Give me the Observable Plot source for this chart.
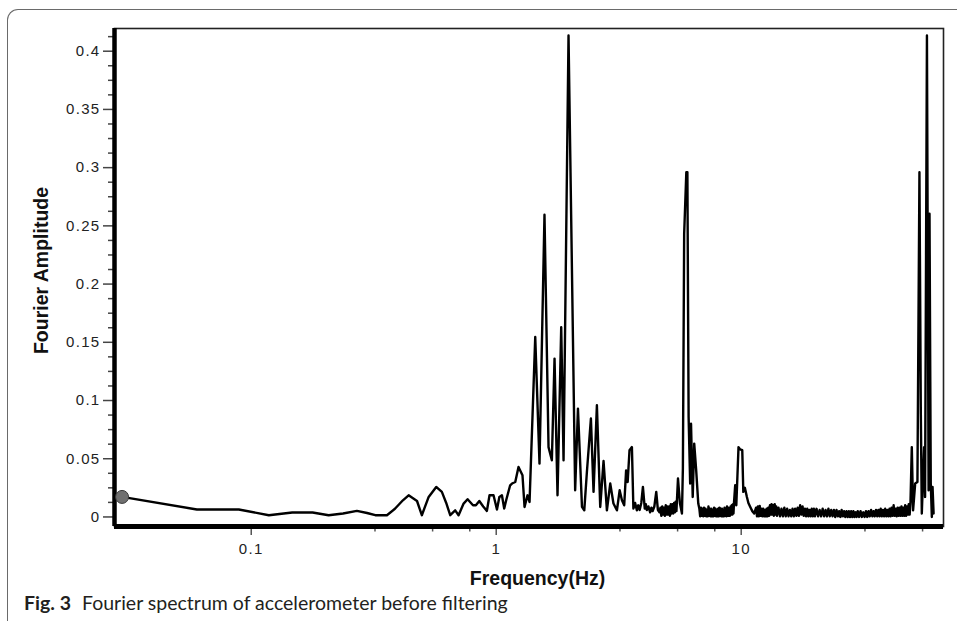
<!DOCTYPE html>
<html>
<head>
<meta charset="utf-8">
<script src="https://cdn.jsdelivr.net/npm/d3@7"></script>
<script src="https://cdn.jsdelivr.net/npm/@observablehq/plot@0.6"></script>
<style>
  html, body { margin: 0; padding: 0; background: #fff; }
  #wrap { position: relative; width: 957px; height: 626px; overflow: hidden; }
  #box { position: absolute; left: 7px; top: 9px; width: 980px; height: 612px;
         border-top: 1.5px solid #6a6a6a; border-left: 1.5px solid #6a6a6a;
         border-top-left-radius: 11px; box-sizing: border-box; }
  #chart { position: absolute; left: 0; top: 0; }
  #cap { position: absolute; left: 24px; top: 592px; font-family: Lato, "Open Sans", sans-serif;
         font-size: 19.5px; line-height: 22px; color: #231f20; white-space: nowrap; }
  #cap b { font-weight: 700; margin-right: 11px; }
  g[aria-label="y-axis tick label"] text, g[aria-label="x-axis tick label"] text {
    letter-spacing: 1.3px; font-size: 15px; font-family: "Liberation Sans", Arial, sans-serif; }
</style>
</head>
<body>
<div id="wrap">
  <div id="box"></div>
  <div id="chart"></div>
  <div id="cap"><b>Fig. 3</b>Fourier spectrum of accelerometer before filtering</div>
</div>
<script>
// ---- axis settings (tick values and labels) ----
const xDomain = [0.02766, 66.95];
const yDomain = [-0.0082, 0.4195];
const xMajor = [0.1, 1, 10];
const xLabels = ["0.1", "1", "10"];
const xMinor = [0.32, 0.55, 0.78, 3.2, 5.5, 7.8, 32, 55];
const yMajor = [0, 0.05, 0.1, 0.15, 0.2, 0.25, 0.3, 0.35, 0.4];
const yLabels = ["0", "0.05", "0.1", "0.15", "0.2", "0.25", "0.3", "0.35", "0.4"];
const yMinor = [0.0125, 0.025, 0.0375, 0.0625, 0.075, 0.0875, 0.1125, 0.125, 0.1375,
  0.1625, 0.175, 0.1875, 0.2125, 0.225, 0.2375, 0.2625, 0.275, 0.2875,
  0.3125, 0.325, 0.3375, 0.3625, 0.375, 0.3875, 0.4125];

// ---- spectrum (frequency in Hz, Fourier amplitude) ----
const lowFreq = [0.0297, 0.060, 0.089, 0.118, 0.147, 0.178, 0.207, 0.237, 0.270, 0.297,
  0.321, 0.358, 0.386, 0.416, 0.439, 0.475, 0.497, 0.530, 0.569, 0.600,
  0.625, 0.649, 0.680, 0.702, 0.736, 0.764, 0.804, 0.826, 0.853, 0.885,
  0.916, 0.939, 0.975, 1.007, 1.030, 1.055, 1.078, 1.100, 1.140, 1.160,
  1.196, 1.233, 1.280, 1.305, 1.342, 1.368];
const lowAmp = [0.0172, 0.0064, 0.0064, 0.0015, 0.0038, 0.0038, 0.0015, 0.0030, 0.0052, 0.0034,
  0.0015, 0.0015, 0.0070, 0.0143, 0.0186, 0.0137, 0.0015, 0.0172, 0.0258, 0.0215,
  0.0120, 0.0015, 0.0057, 0.0015, 0.0115, 0.0152, 0.0100, 0.0100, 0.0137, 0.0090,
  0.0052, 0.0186, 0.0186, 0.0064, 0.0172, 0.0186, 0.0072, 0.0150, 0.0272, 0.0287,
  0.0300, 0.0429, 0.0358, 0.0086, 0.0186, 0.0129];

const peakFreq = [1.443, 1.502, 1.574, 1.635, 1.687, 1.730, 1.779, 1.842, 1.883, 1.973,
  2.100, 2.156, 2.239, 2.288, 2.345, 2.435, 2.496, 2.576, 2.658, 2.742,
  2.830, 2.920, 3.010, 3.110, 3.190, 3.260, 3.330, 3.390, 3.440, 3.500,
  3.580, 3.630, 3.690, 3.750, 3.800, 3.850, 3.910, 3.970, 4.040, 4.080,
  4.120, 4.180, 4.250, 4.300, 4.350, 4.420, 4.500, 4.570, 4.640];
const peakAmp = [0.1545, 0.0458, 0.2596, 0.0600, 0.0487, 0.1360, 0.0186, 0.1630, 0.0487, 0.4135,
  0.0229, 0.0930, 0.0086, 0.0057, 0.0386, 0.0845, 0.0215, 0.0959, 0.0086, 0.0480,
  0.0057, 0.0287, 0.0115, 0.0057, 0.0229, 0.0143, 0.0100, 0.0400, 0.0300, 0.0573,
  0.0600, 0.0072, 0.0120, 0.0057, 0.0100, 0.0060, 0.0120, 0.0258, 0.0072, 0.0110,
  0.0060, 0.0090, 0.0040, 0.0080, 0.0050, 0.0090, 0.0215, 0.0060, 0.0040];

const noise5Freq = [4.68, 4.72, 4.76, 4.80, 4.84, 4.88, 4.92, 4.96, 5.00, 5.04,
  5.08, 5.12, 5.16, 5.20, 5.24, 5.28, 5.32, 5.36, 5.40, 5.44];
const noise5Amp = [0.008, 0.001, 0.009, 0.002, 0.008, 0.001, 0.010, 0.002, 0.009, 0.002,
  0.009, 0.001, 0.011, 0.003, 0.011, 0.003, 0.012, 0.004, 0.013, 0.005];

const sixFreq = [5.52, 5.62, 5.73, 5.78, 5.85, 5.97, 6.03, 6.10, 6.19, 6.24,
  6.34, 6.43, 6.55, 6.68];
const sixAmp = [0.0330, 0.0120, 0.0030, 0.0415, 0.2430, 0.2960, 0.2960, 0.0858, 0.0287, 0.0800,
  0.0172, 0.0630, 0.0400, 0.0115];

const noise8Freq = [6.75, 6.80, 6.85, 6.90, 6.95, 7.00, 7.05, 7.10, 7.15, 7.20,
  7.25, 7.30, 7.35, 7.40, 7.45, 7.50, 7.55, 7.60, 7.65, 7.70,
  7.75, 7.80, 7.85, 7.90, 7.95, 8.00, 8.05, 8.10, 8.15, 8.20,
  8.25, 8.30, 8.35, 8.40, 8.45, 8.50, 8.55, 8.60, 8.65, 8.70,
  8.75, 8.80, 8.85, 8.90, 8.95, 9.00, 9.05, 9.10, 9.15, 9.20,
  9.25, 9.30, 9.35];
const noise8Amp = [0.007, 0.0005, 0.008, 0.001, 0.007, 0.0005, 0.008, 0.001, 0.007, 0.0005,
  0.006, 0.0005, 0.009, 0.001, 0.007, 0.0005, 0.007, 0.0005, 0.006, 0.0005,
  0.008, 0.001, 0.007, 0.0005, 0.006, 0.0005, 0.007, 0.0005, 0.008, 0.001,
  0.007, 0.0005, 0.007, 0.0005, 0.006, 0.0005, 0.008, 0.001, 0.007, 0.0005,
  0.009, 0.001, 0.008, 0.001, 0.007, 0.001, 0.009, 0.002, 0.010, 0.002,
  0.011, 0.003, 0.013];

const tenFreq = [9.45, 9.55, 9.65, 9.75, 9.90, 10.10, 10.20, 10.35, 10.55, 10.70,
  10.89, 11.10, 11.30];
const tenAmp = [0.0272, 0.0100, 0.0350, 0.0600, 0.0580, 0.0573, 0.0215, 0.0250, 0.0172, 0.0120,
  0.0086, 0.0050, 0.0030];

const highFreq = [11.5, 11.6, 11.7, 11.8, 11.9, 12.0, 12.1, 12.2, 12.3, 12.4,
  12.5, 12.6, 12.7, 12.8, 12.9, 13.0, 13.1, 13.2, 13.3, 13.4,
  13.5, 13.6, 13.7, 13.8, 13.9, 14.0,
  14.2, 14.4, 14.6, 14.8, 15.0, 15.2, 15.4, 15.6, 15.8, 16.0,
  16.2, 16.4, 16.6, 16.8, 17.0, 17.2, 17.4, 17.6, 17.8, 18.0,
  18.2, 18.4, 18.6, 18.8, 19.0, 19.2, 19.4, 19.6, 19.8, 20.0,
  20.3, 20.6, 20.9, 21.2, 21.5, 21.8, 22.1, 22.4, 22.7, 23.0,
  23.3, 23.6, 23.9, 24.2, 24.5, 24.8, 25.1, 25.4, 25.7, 26.0,
  26.3, 26.6, 26.9, 27.2, 27.5, 27.8, 28.1, 28.4, 28.7, 29.0,
  29.3, 29.6, 29.9,
  30.3, 30.7, 31.1, 31.5, 31.9, 32.3, 32.7, 33.1, 33.5, 33.9,
  34.3, 34.7, 35.1, 35.5, 35.9, 36.3, 36.7, 37.1, 37.5, 37.9,
  38.3, 38.7, 39.1, 39.5, 39.9, 40.3, 40.7, 41.1, 41.5, 41.9,
  42.3, 42.7, 43.1, 43.5, 43.9, 44.3, 44.7, 45.1, 45.5, 45.9,
  46.3, 46.7, 47.1, 47.5, 47.9, 48.3, 48.7, 49.1];
const highAmp = [0.008, 0.0005, 0.009, 0.0005, 0.0095, 0.001, 0.007, 0.0005, 0.007, 0.0005,
  0.006, 0.0005, 0.007, 0.0005, 0.008, 0.001, 0.010, 0.002, 0.011, 0.002,
  0.010, 0.001, 0.011, 0.002, 0.009, 0.001,
  0.008, 0.0005, 0.007, 0.0005, 0.008, 0.0005, 0.007, 0.0005, 0.006, 0.0005,
  0.007, 0.0005, 0.007, 0.001, 0.008, 0.001, 0.010, 0.002, 0.009, 0.001,
  0.007, 0.0005, 0.007, 0.0005, 0.006, 0.0005, 0.007, 0.0005, 0.007, 0.0005,
  0.007, 0.0005, 0.006, 0.0005, 0.007, 0.0005, 0.006, 0.0005, 0.007, 0.0005,
  0.006, 0.0005, 0.006, 0.0, 0.006, 0.0005, 0.005, 0.0, 0.006, 0.0005,
  0.005, 0.0, 0.005, 0.0, 0.005, 0.0, 0.005, 0.0, 0.005, 0.0,
  0.004, 0.0, 0.005,
  0.0, 0.005, 0.0, 0.004, 0.0, 0.005, 0.0, 0.005, 0.0005, 0.006,
  0.0005, 0.005, 0.0005, 0.006, 0.0005, 0.006, 0.0005, 0.007, 0.0005, 0.006,
  0.0005, 0.007, 0.0005, 0.006, 0.0005, 0.007, 0.0005, 0.008, 0.001, 0.010,
  0.001, 0.007, 0.0005, 0.008, 0.001, 0.008, 0.001, 0.009, 0.001, 0.008,
  0.001, 0.010, 0.001, 0.009, 0.002, 0.011, 0.002, 0.013];

const topFreq = [49.7, 50.3, 51.3, 52.4, 53.4, 54.1, 54.6, 55.8, 56.3, 57.3,
  58.2, 58.7, 59.4, 60.0, 60.4, 61.0];
const topAmp = [0.0600, 0.0057, 0.0287, 0.0300, 0.2960, 0.0888, 0.0030, 0.0600, 0.0172, 0.4135,
  0.0229, 0.2604, 0.0287, 0.0000, 0.0258, 0.0030];

const freq = [...lowFreq, ...peakFreq, ...noise5Freq, ...sixFreq, ...noise8Freq, ...tenFreq, ...highFreq, ...topFreq];
const amp = [...lowAmp, ...peakAmp, ...noise5Amp, ...sixAmp, ...noise8Amp, ...tenAmp, ...highAmp, ...topAmp];
const data = freq.map((f, i) => ({f, a: amp[i]}));

const xLabelMap = new Map(xMajor.map((v, i) => [v, xLabels[i]]));
const yLabelMap = new Map(yMajor.map((v, i) => [v, yLabels[i]]));

const chart = Plot.plot({
  width: 957,
  height: 590,
  marginTop: 28,
  marginRight: 14,
  marginBottom: 64,
  marginLeft: 114,
  style: {fontFamily: "'Liberation Sans', Arial, sans-serif", fontSize: "15px", background: "transparent", overflow: "visible"},
  x: {type: "log", domain: xDomain, label: null},
  y: {domain: yDomain, label: null},
  marks: [
    Plot.axisY({ticks: yMinor, label: null, tickSize: 6, tickFormat: () => "", stroke: "#444", strokeWidth: 1.5}),
    Plot.axisY({ticks: yMajor, label: null, tickSize: 11, tickPadding: 3, tickFormat: d => yLabelMap.get(d), stroke: "#444", strokeWidth: 1.5, fill: "#222"}),
    Plot.axisX({ticks: xMinor, label: null, tickSize: 5.5, tickFormat: () => "", stroke: "#555", strokeWidth: 1.5}),
    Plot.axisX({ticks: xMajor, label: null, tickSize: 9, tickPadding: 8, tickFormat: d => xLabelMap.get(d), stroke: "#555", strokeWidth: 1.5, fill: "#222"}),
    Plot.frame({stroke: "#222", strokeWidth: 1.6}),
    Plot.ruleX([xDomain[0]], {x: d => d, stroke: "#000", strokeWidth: 4.5}),
    Plot.ruleY([yDomain[0]], {y: d => d, stroke: "#000", strokeWidth: 5}),
    Plot.line(data, {x: "f", y: "a", stroke: "#000", strokeWidth: 2.4}),
    Plot.dot([data[0]], {x: "f", y: "a", r: 6.5, fill: "#707070", stroke: "#3a3a3a", strokeWidth: 1}),
    Plot.text(["Fourier Amplitude"], {text: d => d, frameAnchor: "left", rotate: -90, textAnchor: "middle", lineAnchor: "middle",
      dx: -73, dy: -7, fontWeight: "bold", fontSize: 19.5, fill: "#111"}),
    Plot.text(["Frequency(Hz)"], {text: d => d, frameAnchor: "bottom", textAnchor: "middle", lineAnchor: "middle",
      dx: 8.5, dy: 52, fontWeight: "bold", fontSize: 19.5, fill: "#111"})
  ]
});
document.getElementById("chart").appendChild(chart);
</script>
</body>
</html>
